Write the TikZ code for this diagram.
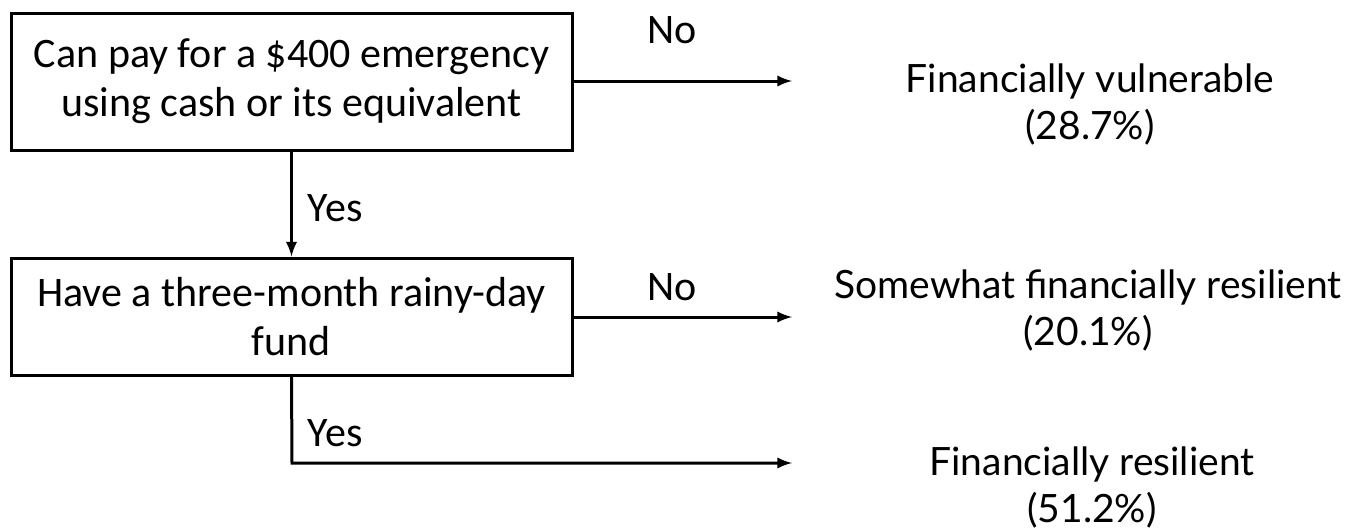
\documentclass[tikz,border=0pt]{standalone}
\usepackage{fontspec}
\setmainfont{Carlito}
\newfontfamily\latofont{Lato}
\usepackage{tikz}

\begin{document}
\begin{tikzpicture}[x=0.5pt,y=-0.5pt,line width=1.5pt,
    box/.style={draw,rectangle,align=center,font=\fontsize{21}{24.5}\selectfont,inner sep=0pt},
    lab/.style={font=\fontsize{21}{24.5}\selectfont},
    res/.style={align=center,font=\latofont\fontsize{19.5}{23.5}\selectfont}]
    \useasboundingbox (0,0) rectangle (1354,531);
    \node[box,minimum width=280.5pt,minimum height=68.5pt] (q1) at (291.5, 81.5) {Can pay for a \$400 emergency\\using cash or its equivalent};
    \node[box,minimum width=280.5pt,minimum height=58.5pt] (q2) at (291.5, 316.5) {Have a three-month rainy-day\\fund};
    \node[res] (r1) at (1090, 104) {Financially vulnerable\\(28.7\%)};
    \node[res] (r2) at (1088, 310) {Somewhat financially resilient\\(20.1\%)};
    \node[res] (r3) at (1092, 487) {Financially resilient\\(51.2\%)};
    \node[lab] (n1) at (672, 30) {No};
    \node[lab] (n2) at (672, 287) {No};
    \node[lab] (y1) at (335, 208) {Yes};
    \node[lab] (y2) at (335, 433) {Yes};
    \coordinate (e1) at (792, 81);
    \coordinate (e2) at (792, 317);
    \coordinate (k3) at (292, 463);
    \coordinate (e3) at (792, 463);
    \draw [-latex] (q1.east |- e1) to (e1);
    \draw [-latex] (q2.east |- e2) to (e2);
    \draw [-latex] (q1.south) to (q2.north);
    \draw [-latex] (q2.south) -- (k3) -- (e3);
  \end{tikzpicture}
\end{document}
